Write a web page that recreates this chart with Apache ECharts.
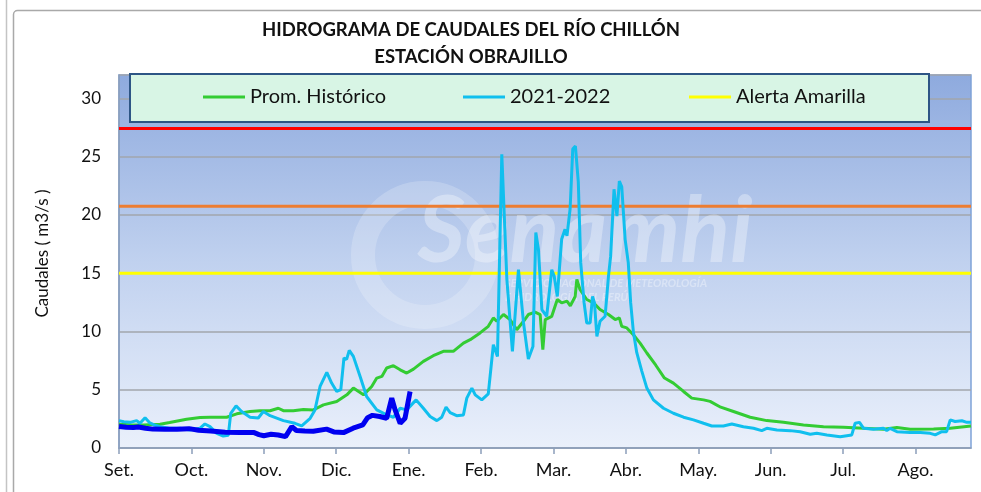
<!DOCTYPE html>
<html>
<head>
<meta charset="utf-8">
<script src="https://cdn.jsdelivr.net/npm/echarts@6/dist/echarts.min.js"></script>
<style>
html,body{margin:0;padding:0;background:#fff;}
#chart{width:981px;height:492px;}
</style>
</head>
<body>
<div id="chart"></div>
<script>
// ---- Data (x = days since 1 Sep) ----
const monthLabels = ["Set.", "Oct.", "Nov.", "Dic.", "Ene.", "Feb.", "Mar.", "Abr.", "May.", "Jun.", "Jul.", "Ago."];
const yTicks = [0, 5, 10, 15, 20, 25, 30];
const xMaxDay = 353;

const promHistorico = [[0,2.04],[5,2.0],[10,1.98],[17,2.04],[21,2.18],[28,2.47],[33.6,2.61],[37.7,2.64],[44.6,2.64],[48.8,2.93],[54.3,3.13],[58.4,3.2],[62.6,3.2],[66,3.41],[66.7,3.55],[68.1,3.2],[72.2,3.2],[76.4,3.3],[80.5,3.27],[84.7,3.7],[90.2,3.99],[94.4,4.56],[97.1,5.14],[101.3,4.56],[104.7,5.28],[106.8,6.0],[108.9,6.14],[110.9,6.86],[113.7,7.06],[116.5,6.71],[119.2,6.43],[122,6.77],[126.1,7.43],[130.2,7.92],[134.4,8.29],[138.5,8.29],[142.7,9.0],[145.5,9.29],[149.6,9.87],[153,10.44],[155.1,11.16],[156.5,10.87],[159.3,11.45],[162,11.02],[164.8,10.15],[167.6,10.87],[169.6,11.45],[172.4,11.65],[174.5,11.45],[175.6,8.43],[176.6,11.02],[179.3,11.3],[181.6,12.74],[183.4,12.45],[185.6,12.6],[187,12.2],[189,13.0],[189.7,14.46],[191,13.6],[193.8,12.74],[196.6,12.45],[199.3,11.88],[202.8,11.45],[205.6,11.02],[207.3,11.16],[208.3,10.44],[210.4,10.3],[213.1,9.72],[215.9,9.0],[218.7,8.15],[222.4,7.1],[226,6.0],[229.7,5.57],[233.9,4.85],[237.3,4.28],[242.2,4.13],[244.9,4.0],[249.3,3.5],[254.6,3.13],[261.5,2.64],[268.4,2.35],[275.3,2.2],[283.6,1.98],[291.9,1.83],[300.2,1.78],[308.5,1.69],[316.7,1.6],[322.3,1.75],[327.8,1.6],[337.5,1.62],[344.4,1.69],[353,1.89]];

const serie2021 = [[0,2.35],[2,2.25],[4.6,2.2],[7.3,2.35],[8.7,2.12],[10.8,2.6],[12.8,2.15],[15,1.95],[17,1.83],[21,1.7],[25.3,1.7],[29.4,1.55],[33.6,1.7],[35.6,2.06],[37.7,1.83],[40.5,1.26],[43.2,1.03],[45.3,1.1],[46.3,2.98],[48.5,3.61],[50.8,3.13],[54.3,2.64],[57.7,2.57],[59.8,3.13],[62.6,2.77],[68.1,2.35],[72.9,2.12],[75.7,1.9],[79.2,2.55],[81.2,3.27],[83.3,5.28],[86.1,6.48],[88.1,5.57],[90.2,4.85],[91.9,5.0],[93.2,7.72],[94.3,7.6],[95.4,8.37],[97.1,7.86],[99.9,6.14],[102.6,4.42],[106.8,3.27],[110.9,2.84],[113.7,2.64],[116.5,3.41],[119.2,3.27],[123.1,4.13],[126.1,3.41],[128.9,2.7],[131.7,2.35],[133.7,2.64],[135.5,3.5],[137.2,3.04],[139.9,2.77],[142.7,2.84],[144.1,4.28],[146.2,5.14],[147.6,4.56],[150.3,4.13],[153,4.65],[155.1,8.86],[156.8,7.86],[158.6,25.2],[159.3,25.1],[160.7,14.46],[163,8.29],[165.5,15.3],[166.1,15.3],[167.6,10.73],[169.6,7.63],[171.5,8.7],[172.7,18.48],[173.8,17.0],[175.2,11.88],[177.2,11.3],[179.3,15.3],[180.3,14.75],[181.6,13.0],[183.4,17.9],[184.8,18.76],[185.6,18.2],[186.9,20.5],[188,25.65],[189.1,25.9],[190.3,22.8],[191.3,15.9],[192.7,12.45],[193.8,10.73],[195.2,10.73],[196.2,13.0],[197,12.45],[198,9.58],[199.3,10.87],[201.4,11.3],[202.8,14.74],[203.7,16.46],[205.1,22.2],[206.3,19.9],[207.3,22.9],[208.3,22.4],[209.7,17.9],[211,15.9],[212,12.45],[213.1,10.0],[214.5,8.2],[216.6,6.6],[218.7,5.14],[221.4,4.13],[225.6,3.41],[229.7,2.98],[233.9,2.64],[238,2.41],[242.2,2.12],[245.6,1.89],[250.4,1.89],[253.9,2.06],[258.7,1.83],[262.9,1.69],[266.3,1.49],[268.4,1.69],[272.6,1.55],[278.1,1.49],[282.2,1.4],[286.4,1.18],[289.1,1.26],[293.3,1.12],[298.8,0.97],[303.6,1.12],[305,2.12],[306.8,2.2],[308.5,1.69],[312.6,1.6],[316.7,1.69],[318.1,1.49],[319.5,1.69],[322.3,1.4],[327.8,1.33],[332,1.33],[336.1,1.26],[338.2,1.12],[340.9,1.4],[342.9,1.4],[344.4,2.41],[346.4,2.27],[349.2,2.34],[351.3,2.2],[353,2.2]];

const serie2022 = [[0,1.85],[3,1.78],[6,1.75],[8,1.8],[11,1.7],[14,1.62],[19,1.6],[24,1.6],[29,1.66],[33,1.52],[38,1.45],[44,1.35],[50,1.33],[56,1.32],[58,1.15],[60,1.05],[63,1.18],[66,1.12],[69,0.97],[71.6,1.83],[73.5,1.5],[77,1.45],[80.5,1.43],[86,1.62],[89,1.38],[93,1.32],[97,1.7],[101,1.98],[103,2.6],[105,2.8],[108,2.7],[110.9,2.55],[113,4.28],[114.4,3.27],[116.5,2.12],[118.5,2.55],[120.6,4.85]];

const alertaRoja = 27.4;
const alertaNaranja = 20.75;
const alertaAmarilla = 15;

const FONT = 'Lato';

const chart = echarts.init(document.getElementById('chart'), null, {renderer: 'canvas'});

function flat(v) { return [[0, v], [xMaxDay, v]]; }

const legendText = {fontSize: 20, color: '#111', fontFamily: FONT};

const option = {
  animation: false,
  textStyle: {fontFamily: FONT},
  grid: {
    left: 119, right: 10, top: 75, bottom: 44,
    show: true,
    borderColor: '#7fa3d8', borderWidth: 1.5,
    backgroundColor: new echarts.graphic.LinearGradient(0, 0, 0, 1, [
      {offset: 0, color: '#8eaade'},
      {offset: 0.5, color: '#c0d1ef'},
      {offset: 1, color: '#eaf0fb'}
    ])
  },
  xAxis: {
    type: 'value', min: 0, max: xMaxDay, interval: 30,
    axisLine: {show: true, lineStyle: {color: '#8c9fba', width: 1.5}},
    axisTick: {show: true, length: 6, lineStyle: {color: '#8c9fba', width: 1.5}},
    splitLine: {show: false},
    axisLabel: {
      showMaxLabel: false, margin: 13, color: '#111', fontSize: 18, fontFamily: FONT,
      formatter: function (v) { const i = Math.round(v / 30); return monthLabels[i] || ''; }
    }
  },
  yAxis: {
    type: 'value', min: 0, max: 32, interval: 5,
    name: 'Caudales ( m3/s )', nameLocation: 'middle', nameGap: 68, nameRotate: 90,
    nameTextStyle: {color: '#111', fontSize: 17, fontFamily: FONT, padding: [0, 0, 0, 16]},
    axisLine: {show: true, lineStyle: {color: '#8c9fba', width: 1.5}},
    axisTick: {show: false},
    splitLine: {show: true, lineStyle: {color: '#a2a6ad', width: 1.5}},
    axisLabel: {
      showMaxLabel: false, margin: 18, color: '#111', fontSize: 17, fontFamily: FONT,
      formatter: function (v) { return yTicks.indexOf(v) >= 0 ? String(v) : ''; }
    }
  },
  legend: [
    {left: 203, top: 87, padding: 0, itemWidth: 42, itemHeight: 3, itemGap: 4, icon: 'rect', data: ['Prom. Histórico'], textStyle: legendText},
    {left: 463, top: 87, padding: 0, itemWidth: 42, itemHeight: 3, itemGap: 4, icon: 'rect', data: ['2021-2022'], textStyle: legendText},
    {left: 689, top: 87, padding: 0, itemWidth: 42, itemHeight: 3, itemGap: 4, icon: 'rect', data: ['Alerta Amarilla'], textStyle: legendText}
  ],
  graphic: [
    {type: 'line', z: 0, shape: {x1: 6.5, y1: 0, x2: 6.5, y2: 492}, style: {stroke: '#c4c4c4', lineWidth: 1.5}, silent: true},
    {type: 'rect', z: 0, shape: {x: 13.5, y: 10.5, width: 980, height: 490, r: 4}, style: {fill: null, stroke: '#a9a9a9', lineWidth: 1.5}, silent: true},
    {type: 'text', z: 5, x: 471, y: 30, style: {text: 'HIDROGRAMA DE CAUDALES DEL RÍO CHILLÓN', font: 'bold 18.5px ' + FONT, fill: '#111', align: 'center', verticalAlign: 'middle'}},
    {type: 'text', z: 5, x: 471, y: 57, style: {text: 'ESTACIÓN OBRAJILLO', font: 'bold 18.5px ' + FONT, fill: '#111', align: 'center', verticalAlign: 'middle'}},
    // watermark
    {type: 'text', z: 1, x: 585, y: 232, style: {text: 'Senamhi', font: 'italic bold 92px ' + FONT, fill: 'rgba(255,255,255,0.33)', align: 'center', verticalAlign: 'middle'}, silent: true},
    {type: 'text', z: 1, x: 505, y: 283, style: {text: 'SERVICIO NACIONAL DE METEOROLOGÍA', font: 'italic bold 11px ' + FONT, fill: 'rgba(255,255,255,0.35)', align: 'left', verticalAlign: 'middle'}, silent: true},
    {type: 'text', z: 1, x: 505, y: 297, style: {text: 'E HIDROLOGÍA DEL PERÚ', font: 'italic bold 11px ' + FONT, fill: 'rgba(255,255,255,0.35)', align: 'left', verticalAlign: 'middle'}, silent: true},
    {type: 'circle', z: 1, shape: {cx: 425, cy: 255, r: 62}, style: {fill: null, stroke: 'rgba(255,255,255,0.2)', lineWidth: 24}, silent: true},
    // legend box
    {type: 'rect', z: 3, shape: {x: 130, y: 74, width: 799, height: 48}, style: {fill: '#d8f5e5', stroke: '#2d5585', lineWidth: 2}, silent: true}
  ],
  series: [
    {name: 'Alerta Roja', type: 'line', data: flat(alertaRoja), showSymbol: false, lineStyle: {color: '#ff0000', width: 3}, itemStyle: {color: '#ff0000'}, z: 2},
    {name: 'Alerta Naranja', type: 'line', data: flat(alertaNaranja), showSymbol: false, lineStyle: {color: '#ed7d31', width: 3}, itemStyle: {color: '#ed7d31'}, z: 2},
    {name: 'Alerta Amarilla', type: 'line', data: flat(alertaAmarilla), showSymbol: false, lineStyle: {color: '#ffff00', width: 3}, itemStyle: {color: '#ffff00'}, z: 2},
    {name: 'Prom. Histórico', type: 'line', data: promHistorico, showSymbol: false, lineStyle: {color: '#33cc33', width: 3}, itemStyle: {color: '#33cc33'}, z: 3},
    {name: '2021-2022', type: 'line', data: serie2021, showSymbol: false, lineStyle: {color: '#10bfee', width: 3}, itemStyle: {color: '#10bfee'}, z: 3},
    {name: '2022-2023', type: 'line', data: serie2022, showSymbol: false, lineStyle: {color: '#0000f0', width: 5}, itemStyle: {color: '#0000f0'}, z: 4}
  ]
};
chart.setOption(option);
</script>
</body>
</html>
